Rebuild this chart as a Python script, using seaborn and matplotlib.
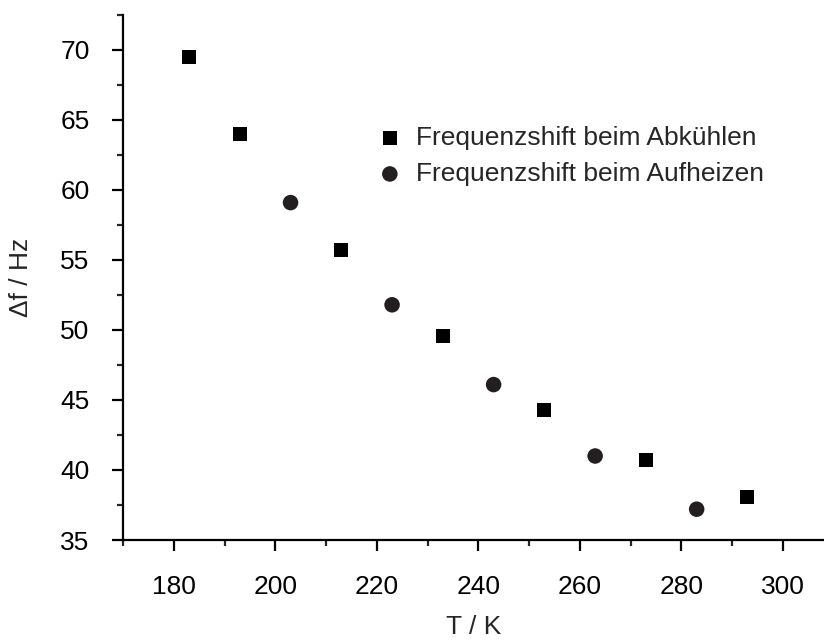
import matplotlib
matplotlib.use("Agg")
import matplotlib.pyplot as plt
import seaborn as sns
import pandas as pd
from matplotlib.ticker import MultipleLocator

# Data
T_cool = [183, 193, 213, 233, 253, 273, 293]
df_cool = [69.5, 64.0, 55.7, 49.6, 44.3, 40.7, 38.1]
T_heat = [203, 223, 243, 263, 283]
df_heat = [59.1, 51.8, 46.1, 41.0, 37.2]
label_cool = "Frequenzshift beim Abkühlen"
label_heat = "Frequenzshift beim Aufheizen"
x_label = "T / K"
y_label = "\u0394f / Hz"

sns.set_theme(style="ticks")
plt.rcParams['font.family'] = ['Liberation Sans', 'DejaVu Sans']

fig = plt.figure(figsize=(8.24, 6.4), dpi=100)
ax = fig.add_axes([123/824, 1 - 540/640, 1 - 123/824 - 0.0005, (540 - 15)/640])

d1 = pd.DataFrame({"T": T_cool, "df": df_cool})
d2 = pd.DataFrame({"T": T_heat, "df": df_heat})
sns.scatterplot(data=d1, x="T", y="df", marker="s", s=100, color="#000000",
                edgecolor="none", linewidth=0, ax=ax, label=label_cool)
sns.scatterplot(data=d2, x="T", y="df", marker="o", s=125, color="#231f20",
                edgecolor="none", linewidth=0, ax=ax, label=label_heat)

ax.set_xlim(170, 308)
ax.set_ylim(35, 72.5)
ax.xaxis.set_major_locator(MultipleLocator(20))
ax.xaxis.set_minor_locator(MultipleLocator(10))
ax.yaxis.set_major_locator(MultipleLocator(5))
ax.yaxis.set_minor_locator(MultipleLocator(2.5))
ax.set_xticks([180, 200, 220, 240, 260, 280, 300])

for side in ["top", "right"]:
    ax.spines[side].set_visible(False)
for side in ["left", "bottom"]:
    ax.spines[side].set_linewidth(1.6)
    ax.spines[side].set_color("black")

ax.tick_params(axis="both", which="major", length=8, width=1.6, direction="out",
               labelsize=19, colors="black")
ax.tick_params(axis="both", which="minor", length=4.5, width=1.6, direction="out")
ax.tick_params(axis="x", which="major", pad=17)
ax.tick_params(axis="y", which="major", pad=16)

ax.set_xlabel(x_label, fontsize=19, labelpad=12)
ax.set_ylabel(y_label, fontsize=19, labelpad=20)

leg = ax.legend(loc="upper left", bbox_to_anchor=(374/824, 1 - 126/640),
                bbox_transform=fig.transFigure, frameon=False, fontsize=19,
                handletextpad=0.4, labelspacing=0.45, borderpad=0, borderaxespad=0,
                handlelength=1.2, markerscale=1.0)

fig.savefig("out.png", dpi=100)
